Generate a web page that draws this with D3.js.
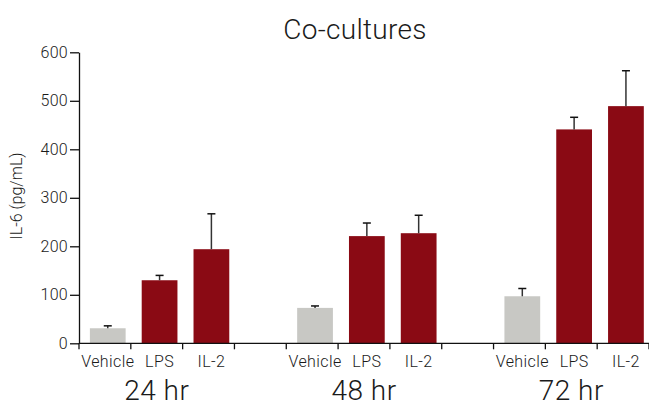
<!DOCTYPE html>
<html>
<head>
<meta charset="utf-8">
<script src="https://cdn.jsdelivr.net/npm/d3@7"></script>
<style>
  body { margin: 0; background: #fff; }
  text { font-family: Roboto, "Liberation Sans", sans-serif; font-weight: 300; fill: #1a1a1a; }
</style>
</head>
<body>
<svg id="svg" width="649" height="408"></svg>
<script>
// chart values
const groups = ["24 hr", "48 hr", "72 hr"];
const treatments = ["Vehicle", "LPS", "IL-2"];
const means = [
  [31, 130, 194],
  [73, 221, 227],
  [97, 441, 489]
];
const errors = [
  [5, 10, 73],
  [4, 27, 37],
  [16, 25, 73]
];
const yTicks = [0, 100, 200, 300, 400, 500, 600];

const colors = { "Vehicle": "#c8c8c4", "LPS": "#8a0a14", "IL-2": "#8a0a14" };

const svg = d3.select("#svg");
const mLeft = 79, mRight = 649, mTop = 52.3, mBottom = 343.3;
const slot = (mRight - mLeft) / 11;   // 3 bars + 1 gap per group, last gap cut off

const y = d3.scaleLinear().domain([0, 600]).range([mBottom, mTop]);
const x0 = d3.scaleBand().domain(groups).range([mLeft, mLeft + 12 * slot]);
const x1 = d3.scaleBand().domain(treatments).range([0, 3 * slot]);

// flatten
const rows = [];
groups.forEach((g, i) => treatments.forEach((t, j) => {
  rows.push({ group: g, trt: t, mean: means[i][j], err: errors[i][j] });
}));

const barX = d => x0(d.group) + x1(d.trt) + slot * 0.21;
const barW = slot * 0.69;

// bars
svg.append("g").selectAll("rect")
  .data(rows)
  .enter().append("rect")
  .attr("x", barX)
  .attr("width", barW)
  .attr("y", d => y(d.mean))
  .attr("height", d => y(0) - y(d.mean))
  .attr("fill", d => colors[d.trt]);

// error bars (upper only)
const eb = svg.append("g").attr("stroke", "#333").attr("stroke-width", 1.5);
eb.selectAll("line.v")
  .data(rows)
  .enter().append("line")
  .attr("class", "v")
  .attr("x1", d => barX(d) + barW / 2)
  .attr("x2", d => barX(d) + barW / 2)
  .attr("y1", d => y(d.mean))
  .attr("y2", d => y(d.mean + d.err));
eb.selectAll("line.c")
  .data(rows)
  .enter().append("line")
  .attr("class", "c")
  .attr("stroke", "#111")
  .attr("x1", d => barX(d) + barW / 2 - 4)
  .attr("x2", d => barX(d) + barW / 2 + 4)
  .attr("y1", d => y(d.mean + d.err))
  .attr("y2", d => y(d.mean + d.err));

// y axis
const yAxis = svg.append("g")
  .attr("transform", `translate(${mLeft},0)`)
  .call(d3.axisLeft(y).tickValues(yTicks).tickSize(9).tickPadding(2).tickSizeOuter(0));
yAxis.select(".domain").attr("stroke", "#111").attr("stroke-width", 1.3);
yAxis.selectAll(".tick line").attr("stroke", "#111").attr("stroke-width", 1.3);
yAxis.selectAll(".tick text")
  .style("font-size", "16px")
  .style("letter-spacing", "0.3px")
  .attr("fill", "#1a1a1a");

// x axis: baseline with ticks at every slot boundary
const xa = svg.append("g");
xa.append("line")
  .attr("x1", mLeft).attr("x2", mRight)
  .attr("y1", mBottom).attr("y2", mBottom)
  .attr("stroke", "#111").attr("stroke-width", 1.3);
xa.selectAll("line.tk")
  .data(d3.range(12))
  .enter().append("line")
  .attr("class", "tk")
  .attr("x1", i => mLeft + i * slot).attr("x2", i => mLeft + i * slot)
  .attr("y1", mBottom).attr("y2", mBottom + 6)
  .attr("stroke", "#111").attr("stroke-width", 1.3);

// treatment labels
svg.append("g").selectAll("text")
  .data(rows)
  .enter().append("text")
  .attr("x", d => barX(d) + barW / 2)
  .attr("y", 367)
  .attr("text-anchor", "middle")
  .style("font-size", "16px")
  .style("letter-spacing", "0.4px")
  .text(d => d.trt);

// group labels
svg.append("g").selectAll("text")
  .data(groups)
  .enter().append("text")
  .attr("x", g => x0(g) + 1.5 * slot)
  .attr("y", 400)
  .attr("text-anchor", "middle")
  .style("font-size", "28px")
  .style("letter-spacing", "0.5px")
  .text(g => g);

// title
svg.append("text")
  .attr("x", 355).attr("y", 39)
  .attr("text-anchor", "middle")
  .style("font-size", "28px")
  .style("letter-spacing", "0.3px")
  .text("Co-cultures");

// y label
svg.append("text")
  .attr("transform", "translate(22,196) rotate(-90)")
  .attr("text-anchor", "middle")
  .style("font-size", "16px")
  .text("IL-6 (pg/mL)");
</script>
</body>
</html>
